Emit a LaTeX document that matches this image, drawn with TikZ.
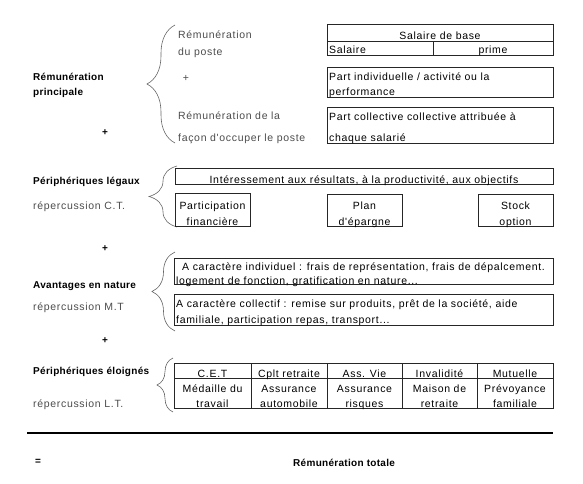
\documentclass[tikz,border=0pt]{standalone}
\usepackage{fontspec}
\setmainfont{Liberation Sans}
\newfontfamily\spacedfont{Liberation Sans}[LetterSpace=6.5]
\newfontfamily\spacedbold{Liberation Sans Bold}[LetterSpace=3]
\usetikzlibrary{decorations.pathreplacing}
\begin{document}
\begin{tikzpicture}[x=1pt,y=-1pt,
  box/.style={draw=black!85, line width=0.7pt, inner sep=0pt, anchor=north west},
  txt/.style={inner sep=0pt, font=\spacedfont\fontsize{10.5}{12}\selectfont, text=black},
  gtxt/.style={txt, text=black!70},
  btxt/.style={inner sep=0pt, font=\spacedbold\fontsize{10}{12}\selectfont},
  brc/.style={draw=black!60, line width=0.6pt, decorate, decoration={brace, amplitude=#1}}
]
\useasboundingbox (0,0) rectangle (583,484);

% ---------- Section 1
\node[btxt, anchor=base west] (rp1) at (33,81) {Rémunération};
\node[btxt, anchor=base west] (rp2) at (33,96) {principale};
\node[btxt] (plus1) at (105,133) {+};
\draw[brc=28] (175,143) -- (175,25);
\node[gtxt, anchor=base west] (rdp1) at (178,39) {Rémunération};
\node[gtxt, anchor=base west] (rdp2) at (178,56) {du poste};
\node[gtxt] (plusa) at (186,78) {+};
\node[gtxt, anchor=base west] (rfo1) at (178,120) {Rémunération de la};
\node[gtxt, anchor=base west] (rfo2) at (178,141) {façon d'occuper le poste};

\node[box, minimum width=226pt, minimum height=17pt] (salbase) at (327,24) {};
\node[box, minimum width=106pt, minimum height=14pt] (salaire) at (327,41) {};
\node[box, minimum width=120pt, minimum height=14pt] (prime) at (433,41) {};
\node[txt, anchor=base] (tsb) at (440,40) {Salaire de base};
\node[txt, anchor=base west] (tsal) at (329,54) {Salaire};
\node[txt, anchor=base] (tpr) at (493,54) {prime};
\node[box, minimum width=226pt, minimum height=30pt] (pind) at (327,67) {};
\node[txt, anchor=base west] (tpi1) at (329,81) {Part individuelle / activité ou la};
\node[txt, anchor=base west] (tpi2) at (329,96) {performance};
\node[box, minimum width=226pt, minimum height=36pt] (pcol) at (327,107) {};
\node[txt, anchor=base west] (tpc1) at (329,121) {Part collective collective attribuée à};
\node[txt, anchor=base west] (tpc2) at (329,141) {chaque salarié};

% ---------- Section 2
\node[btxt, anchor=base west] (pl) at (33,184) {Périphériques légaux};
\node[gtxt, anchor=base west] (rct) at (33,209) {répercussion C.T.};
\draw[brc=28] (177,227) -- (177,166);
\node[box, minimum width=378pt, minimum height=16pt] (inter) at (175,168) {};
\node[txt, anchor=base] (tint) at (364,183) {Intéressement aux résultats, à la productivité, aux objectifs};
\node[box, minimum width=75pt, minimum height=33pt] (partf) at (175,193) {};
\node[txt, anchor=base] (tpf1) at (212.5,209) {Participation};
\node[txt, anchor=base] (tpf2) at (212.5,225) {financière};
\node[box, minimum width=75pt, minimum height=32pt] (plan) at (327,194) {};
\node[txt, anchor=base] (tpl1) at (364.5,209) {Plan};
\node[txt, anchor=base] (tpl2) at (364.5,225) {d'épargne};
\node[box, minimum width=75pt, minimum height=32pt] (stock) at (478,194) {};
\node[txt, anchor=base] (tst1) at (515.5,209) {Stock};
\node[txt, anchor=base] (tst2) at (515.5,225) {option};
\node[btxt] (plus2) at (105,249) {+};

% ---------- Section 3
\node[btxt, anchor=base west] (av) at (33,288) {Avantages en nature};
\node[gtxt, anchor=base west] (rmt) at (33,310) {répercussion M.T};
\draw[brc=23] (175,331) -- (175,252);
\node[box, minimum width=379pt, minimum height=26pt] (indiv) at (174,258) {};
\node[txt, anchor=base west] (tin1) at (182,270) {A caractère individuel : frais de représentation, frais de dépalcement.};
\node[txt, anchor=base west] (tin2) at (176,284) {logement de fonction, gratification en nature...};
\node[box, minimum width=379pt, minimum height=31pt] (coll) at (174,294) {};
\node[txt, anchor=base west] (tco1) at (176,307) {A caractère collectif : remise sur produits, prêt de la société, aide};
\node[txt, anchor=base west] (tco2) at (176,323) {familiale, participation repas, transport...};
\node[btxt] (plus3) at (105,341) {+};

% ---------- Section 4
\node[btxt, anchor=base west] (pe) at (33,374) {Périphériques éloignés};
\node[gtxt, anchor=base west] (rlt) at (33,407) {répercussion L.T.};
\draw[brc=16] (173,412) -- (173,358);
\foreach \xa/\xb/\n/\ta/\tb/\tc in {174/251/1/C.E.T/Médaille du/travail,
  251/327/2/Cplt retraite/Assurance/automobile,
  327/402/3/Ass. Vie/Assurance/risques,
  402/477/4/Invalidité/Maison de/retraite,
  477/553/5/Mutuelle/Prévoyance/familiale}{
  \node[box, minimum width=\xb-\xa, minimum height=15pt] (top\n) at (\xa,363) {};
  \node[box, minimum width=\xb-\xa, minimum height=30pt] (bot\n) at (\xa,378) {};
  \node[txt, anchor=base] (tt\n) at ({(\xa+\xb)/2},377) {\ta};
  \node[txt, anchor=base] (tb\n) at ({(\xa+\xb)/2},392) {\tb};
  \node[txt, anchor=base] (tc\n) at ({(\xa+\xb)/2},407) {\tc};
}

% ---------- Total
\coordinate (la) at (27,433);
\coordinate (lb) at (553,433);
\draw[line width=2pt] (la) -- (lb);
\node[btxt] (eq) at (38,462) {=};
\node[btxt, anchor=base west] (tot) at (293,466) {Rémunération totale};
\end{tikzpicture}
\end{document}
